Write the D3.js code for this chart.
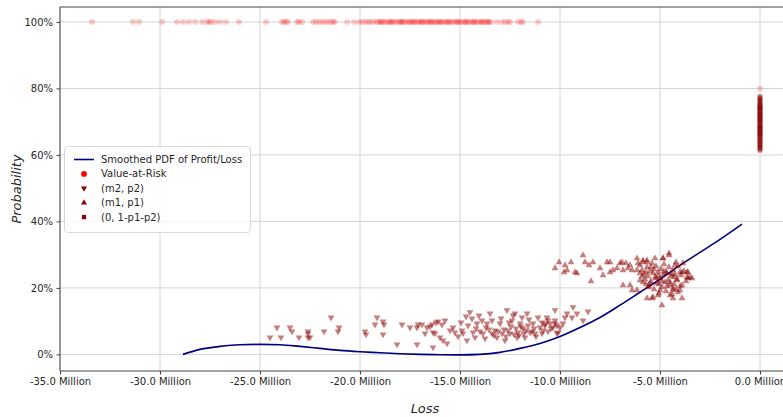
<!DOCTYPE html>
<html>
<head>
<meta charset="utf-8">
<script src="https://cdn.jsdelivr.net/npm/d3@7"></script>
<style>
  body { margin: 0; background: #fff; }
  svg { display: block; font-family: 'DejaVu Sans', sans-serif; }
</style>
</head>
<body>
<div id="chart"></div>
<script>
// ---- data (loss in millions, probability in %) ----

// smoothed pdf of profit/loss, drawn as probability-scaled line
const pdfLoss = [-28.85, -28.0, -27.0, -26.0, -25.0, -24.0, -23.0, -22.0, -21.0, -20.0, -19.0, -18.0, -17.0, -16.0,
  -15.0, -14.0, -13.0, -12.0, -11.0, -10.0, -9.0, -8.0, -7.0, -6.0, -5.0, -4.0, -3.0, -2.0, -0.9];
const pdfProb = [0.0, 1.5, 2.4, 2.9, 3.0, 2.9, 2.4, 1.8, 1.2, 0.8, 0.5, 0.2, 0.0, -0.1,
  -0.15, 0.0, 0.6, 1.8, 3.3, 5.4, 8.1, 11.1, 14.8, 18.7, 22.6, 26.8, 30.7, 34.6, 39.2];

// value-at-risk points sitting on the 100% line
const varTopLoss = [-33.4, -31.35, -31.05, -29.9, -29.15, -28.85, -28.55, -28.25, -27.9, -27.65, -27.55, -27.45,
  -27.25, -27.0, -26.7, -26.05, -24.7, -23.9, -23.8, -23.7, -23.6, -23.15, -23.05, -22.9, -22.35, -22.2, -22.05,
  -21.9, -21.75, -21.6, -21.45, -21.35, -21.25, -20.65, -20.3,
  -20.05, -19.9, -19.75, -19.6, -19.5, -19.35, -19.2, -19.1, -19.0, -18.9, -18.8, -18.7, -18.6, -18.5, -18.4,
  -18.3, -18.2, -18.1, -18.0, -17.95, -17.85, -17.75, -17.65, -17.55, -17.5, -17.4, -17.3, -17.2, -17.1, -17.05,
  -16.95, -16.85, -16.75, -16.65, -16.6, -16.5, -16.4, -16.3, -16.2, -16.15, -16.05, -15.95, -15.85, -15.75,
  -15.65, -15.55, -15.45, -15.35, -15.25, -15.15, -15.05, -14.95, -14.85, -14.75, -14.65, -14.55, -14.45, -14.35,
  -14.25, -14.15, -14.05, -13.95, -13.85, -13.75, -13.65, -13.55, -13.45,
  -18.95, -18.45, -17.9, -17.35, -16.9, -16.45, -16.0, -15.6, -15.1, -14.7, -14.3, -13.9, -13.6,
  -13.15, -12.9, -12.75, -12.6, -12.5, -12.1, -11.95, -11.85, -11.1];
const varTopProb = 100;
// the single faint value-at-risk point at the zero-loss column
const varOtherLoss = [0.0];
const varOtherProb = [80.0];

// (m2, p2) down triangles
const m2Loss = [-24.5, -24.15, -23.95, -23.5, -23.4, -23.05, -22.6, -22.6, -22.6, -22.5, -21.8, -21.45, -21.05, -21.1,
  -19.75, -19.7, -19.15, -19.25, -18.85, -18.8, -18.85, -18.15, -17.9, -17.5, -17.15, -17.15, -17.1,
  -16.9, -16.65, -16.4, -16.35, -16.75, -16.25, -16.1, -15.9, -16.0, -16.35, -15.85, -15.65, -15.75, -15.35, -15.25,
  -14.95, -14.9, -14.85, -14.7, -14.65, -14.5, -14.4, -14.35, -14.25, -14.15, -14.05, -13.9, -13.85, -13.75, -13.65,
  -13.5, -13.4, -13.4, -13.25, -13.15, -13.0, -12.9, -12.75, -12.65, -12.6, -12.5, -12.4, -12.35, -12.25, -12.15,
  -12.1, -12.0, -11.9, -11.85, -11.8, -11.75, -11.65, -11.6, -11.5, -11.35, -11.25, -11.1, -11.0, -10.9, -10.75,
  -10.6, -10.45, -10.25, -10.15,
  -13.3, -13.1, -12.8, -12.7, -12.45, -12.3, -12.2, -12.05, -11.95, -11.7, -11.55, -11.4, -11.3, -11.2, -12.55,
  -12.95, -13.55, -13.7, -14.0, -14.2, -14.6, -15.1, -15.5, -16.5, -16.2,
  -10.65, -10.25, -9.35, -9.65, -9.75, -9.4, -9.15, -8.85, -10.9, -10.75, -10.5, -10.25, -10.15, -10.85, -10.6,
  -10.35, -10.0, -9.85, -10.1, -8.6];
const m2Prob = [5.1, 8.1, 5.1, 8.1, 6.9, 5.1, 6.9, 6.3, 5.1, 5.1, 6.9, 11.1, 8.1, 6.9,
  6.9, 6.0, 11.1, 9.0, 9.9, 9.0, 6.0, 3.0, 9.0, 8.1, 3.0, 8.1, 9.0,
  9.0, 8.1, 9.0, 6.6, 6.3, 6.3, 9.9, 9.0, 5.1, 2.1, 4.2, 3.3, 10.2, 8.1, 6.6,
  9.6, 7.2, 6.3, 11.4, 4.2, 12.7, 10.8, 6.6, 5.1, 9.3, 11.7, 10.2, 6.3, 4.8, 9.3,
  12.3, 10.2, 6.3, 7.2, 5.1, 9.3, 6.3, 4.2, 13.3, 7.2, 6.3, 10.2, 11.7, 12.3, 5.1,
  6.6, 9.3, 11.1, 7.8, 6.3, 5.1, 12.3, 8.7, 6.6, 9.3, 6.3, 11.1, 8.1, 6.3, 9.3,
  10.2, 7.8, 9.3, 6.3,
  5.7, 6.9, 7.5, 5.4, 8.4, 6.0, 7.8, 5.7, 8.4, 7.2, 10.5, 6.9, 7.8, 5.4, 9.6,
  10.8, 7.5, 8.1, 6.9, 7.8, 8.7, 5.4, 7.2, 8.4, 9.6,
  11.1, 13.3, 14.2, 12.3, 11.1, 11.1, 12.3, 10.2, 9.6, 8.7, 9.3, 10.2, 8.7, 7.2, 6.9,
  8.1, 8.1, 9.3, 6.6, 12.9];

// (m1, p1) up triangles
const m1Loss = [-10.25, -10.05, -9.8, -9.75, -9.65, -9.45, -9.25, -9.15, -8.85, -8.75, -8.55, -8.45, -8.35, -8.0,
  -7.85, -7.65, -7.5, -7.5, -7.35, -7.15, -7.0, -6.9, -6.85, -6.7, -6.6, -6.5, -6.4, -6.85, -6.5, -6.15, -6.1,
  -6.15, -6.0, -5.85, -5.65, -6.0, -5.85, -6.4, -6.15, -5.65, -5.4, -4.9, -4.85, -4.55, -4.2, -4.25, -3.9, -3.65,
  -3.4, -3.6, -4.0, -4.35, -4.5, -5.1,
  -5.85, -5.65, -5.25, -4.85, -4.55, -3.85, -3.65, -3.6, -4.0, -4.15, -3.9, -4.35, -4.1, -3.9, -4.35, -5.35, -5.0,
  -6.0, -5.9, -5.8, -5.75, -5.7, -5.65, -5.6, -5.55, -5.5, -5.45, -5.4, -5.35, -5.3, -5.25, -5.2, -5.15, -5.1,
  -5.05, -5.0, -4.95, -4.9, -4.85, -4.8, -4.75, -4.7, -4.65, -4.6, -4.55, -4.5, -4.45, -4.4, -4.35, -4.3, -4.25,
  -4.2, -4.15, -4.1, -4.0, -3.95, -3.8, -3.7, -3.5,
  -5.9, -5.7, -5.5, -5.3, -5.1, -4.9, -4.7, -4.5, -4.3, -5.6, -5.2, -4.8, -4.4, -5.45, -5.05, -4.65];
const m1Prob = [25.9, 27.7, 24.7, 26.8, 25.3, 27.7, 24.7, 24.4, 29.8, 27.7, 26.8, 22.0, 27.7, 25.9,
  23.8, 27.7, 27.7, 24.7, 25.3, 25.9, 27.4, 27.7, 25.3, 27.4, 25.9, 26.8, 25.3, 20.8, 20.8, 28.9, 27.4,
  25.3, 24.4, 27.7, 27.7, 22.3, 21.7, 19.3, 19.3, 16.9, 16.9, 14.8, 28.9, 30.4, 27.7, 26.8, 24.7, 24.7,
  22.9, 22.9, 19.3, 19.3, 17.8, 17.8,
  28.3, 28.3, 28.9, 28.9, 29.8, 27.4, 23.2, 24.7, 24.7, 22.3, 20.8, 19.9, 18.7, 16.9, 16.9, 17.2, 19.3,
  26.8, 25.3, 24.1, 22.6, 21.1, 26.2, 23.5, 20.5, 25.0, 22.0, 27.4, 24.4, 19.6, 23.2, 26.5, 21.4, 24.7,
  18.4, 22.9, 25.6, 20.2, 23.8, 27.1, 21.7, 19.0, 24.4, 22.3, 26.2, 20.8, 23.5, 18.1, 25.3, 21.1, 24.1,
  19.6, 22.6, 26.5, 20.5, 23.8, 25.0, 22.0, 23.2,
  23.5, 24.7, 21.4, 25.6, 23.5, 22.0, 24.7, 21.7, 23.2, 20.2, 22.9, 25.0, 24.1, 26.2, 21.1, 20.5];

// (0, 1-p1-p2) squares stacked on the zero-loss column
const zeroLoss = 0.0;
const zeroProb = [61.4, 61.9, 62.3, 62.8, 63.1, 63.6, 64.0, 64.5, 64.8, 65.2, 65.7, 66.1, 66.4, 66.9, 67.3, 67.6,
  68.0, 68.5, 68.8, 69.3, 69.6, 70.1, 70.4, 70.9, 71.3, 71.6, 72.1, 72.4, 72.8, 73.3, 73.7, 74.0, 74.5, 74.9,
  75.3, 75.7, 76.2, 76.6, 77.1, 77.5, 66.6, 68.3, 70.7, 72.6, 74.2];

const xTicks = [-35, -30, -25, -20, -15, -10, -5, 0];
const yTicks = [0, 20, 40, 60, 80, 100];

// ---- layout ----
const width = 783, height = 417;
const margin = { top: 7, right: -7, bottom: 46, left: 60 };

const svg = d3.select('#chart')
  .append('svg')
  .attr('width', width)
  .attr('height', height);

const x = d3.scaleLinear().domain([-35, 1.5]).range([margin.left, width - margin.right]);
const y = d3.scaleLinear().domain([-5, 104.5]).range([height - margin.bottom, margin.top]);

const gridColor = '#d4d4d4';
const spineColor = '#444';
const red = '#ff0000';
const darkRed = '#8b0000';

// grid
svg.append('g')
  .selectAll('line.vgrid')
  .data(xTicks)
  .enter()
  .append('line')
  .attr('x1', d => x(d)).attr('x2', d => x(d))
  .attr('y1', y.range()[0]).attr('y2', y.range()[1])
  .attr('stroke', gridColor)
  .attr('stroke-width', 1);

svg.append('g')
  .selectAll('line.hgrid')
  .data(yTicks)
  .enter()
  .append('line')
  .attr('x1', x.range()[0]).attr('x2', x.range()[1])
  .attr('y1', d => y(d)).attr('y2', d => y(d))
  .attr('stroke', gridColor)
  .attr('stroke-width', 1);

// smoothed pdf line
const line = d3.line()
  .x(d => x(d[0]))
  .y(d => y(d[1]))
  .curve(d3.curveMonotoneX);

svg.append('path')
  .datum(pdfLoss.map((l, i) => [l, pdfProb[i]]))
  .attr('d', line)
  .attr('fill', 'none')
  .attr('stroke', '#000080')
  .attr('stroke-width', 1.6);

// symbols
const circle = d3.symbol().type(d3.symbolCircle).size(26);
const tri = d3.symbol().type(d3.symbolTriangle).size(20);
const square = d3.symbol().type(d3.symbolSquare).size(22);

// value-at-risk
const varPts = varTopLoss.map(l => [l, varTopProb])
  .concat(varOtherLoss.map((l, i) => [l, varOtherProb[i]]));
svg.append('g')
  .selectAll('path')
  .data(varPts)
  .enter()
  .append('path')
  .attr('d', circle)
  .attr('transform', d => 'translate(' + x(d[0]) + ',' + y(d[1]) + ')')
  .attr('fill', red)
  .attr('fill-opacity', 0.2);

// (m2, p2)
svg.append('g')
  .selectAll('path')
  .data(m2Loss.map((l, i) => [l, m2Prob[i]]))
  .enter()
  .append('path')
  .attr('d', tri)
  .attr('transform', d => 'translate(' + x(d[0]) + ',' + y(d[1]) + ') rotate(180)')
  .attr('fill', darkRed)
  .attr('fill-opacity', 0.5);

// (m1, p1)
svg.append('g')
  .selectAll('path')
  .data(m1Loss.map((l, i) => [l, m1Prob[i]]))
  .enter()
  .append('path')
  .attr('d', tri)
  .attr('transform', d => 'translate(' + x(d[0]) + ',' + y(d[1]) + ')')
  .attr('fill', darkRed)
  .attr('fill-opacity', 0.5);

// (0, 1-p1-p2)
svg.append('g')
  .selectAll('path')
  .data(zeroProb)
  .enter()
  .append('path')
  .attr('d', square)
  .attr('transform', d => 'translate(' + x(zeroLoss) + ',' + y(d) + ')')
  .attr('fill', darkRed)
  .attr('fill-opacity', 0.5);

// axes
const xAxis = svg.append('g')
  .attr('transform', 'translate(0,' + y.range()[0] + ')')
  .call(d3.axisBottom(x).tickValues(xTicks).tickSize(3.5).tickPadding(3.5));
const yAxis = svg.append('g')
  .attr('transform', 'translate(' + x.range()[0] + ',0)')
  .call(d3.axisLeft(y).tickValues(yTicks).tickSize(3.5).tickPadding(3.5)
    .tickFormat(d => d + '%'));

[xAxis, yAxis].forEach(a => {
  a.select('.domain').remove();
  a.selectAll('line').attr('stroke', spineColor);
  a.selectAll('text')
    .attr('fill', '#262626')
    .style('font-size', '10px')
    .style('font-family', "'DejaVu Sans', sans-serif");
});
xAxis.selectAll('text').text(d => d3.format('.1f')(d).replace('−', '-') + ' Million');
yAxis.selectAll('text').attr('dy', '0.35em');

// spines (right one is outside the picture)
svg.append('line')
  .attr('x1', x.range()[0]).attr('x2', x.range()[0])
  .attr('y1', y.range()[0]).attr('y2', y.range()[1])
  .attr('stroke', spineColor).attr('stroke-width', 1);
svg.append('line')
  .attr('x1', x.range()[0]).attr('x2', x.range()[1])
  .attr('y1', y.range()[0]).attr('y2', y.range()[0])
  .attr('stroke', spineColor).attr('stroke-width', 1);
svg.append('line')
  .attr('x1', x.range()[0]).attr('x2', x.range()[1])
  .attr('y1', y.range()[1]).attr('y2', y.range()[1])
  .attr('stroke', spineColor).attr('stroke-width', 1);

// axis titles
svg.append('text')
  .attr('x', (x.range()[0] + x.range()[1]) / 2)
  .attr('y', 413)
  .attr('text-anchor', 'middle')
  .style('font-size', '13px')
  .style('font-style', 'italic')
  .attr('fill', '#262626')
  .text('Loss');

svg.append('text')
  .attr('transform', 'translate(21,' + (y.range()[0] + y.range()[1]) / 2 + ') rotate(-90)')
  .attr('text-anchor', 'middle')
  .style('font-size', '13px')
  .style('font-style', 'italic')
  .attr('fill', '#262626')
  .text('Probability');

// legend
const legend = svg.append('g').attr('transform', 'translate(64,146)');
legend.append('rect')
  .attr('x', 0.5).attr('y', 0.5)
  .attr('width', 186).attr('height', 86)
  .attr('rx', 3)
  .attr('fill', '#fff').attr('fill-opacity', 0.8)
  .attr('stroke', '#d9d9d9');

const legendItems = [
  { label: 'Smoothed PDF of Profit/Loss', kind: 'line' },
  { label: 'Value-at-Risk', kind: 'circle' },
  { label: '(m2, p2)', kind: 'down' },
  { label: '(m1, p1)', kind: 'up' },
  { label: '(0, 1-p1-p2)', kind: 'square' }
];

legendItems.forEach((item, i) => {
  const cy = 13.5 + i * 14.4;
  if (item.kind === 'line') {
    legend.append('line')
      .attr('x1', 10).attr('x2', 30).attr('y1', cy).attr('y2', cy)
      .attr('stroke', '#000080').attr('stroke-width', 1.6);
  } else {
    const sym = item.kind === 'circle' ? d3.symbol().type(d3.symbolCircle).size(26)
      : item.kind === 'square' ? d3.symbol().type(d3.symbolSquare).size(18)
      : d3.symbol().type(d3.symbolTriangle).size(16);
    legend.append('path')
      .attr('d', sym)
      .attr('transform', 'translate(20,' + cy + ')' + (item.kind === 'down' ? ' rotate(180)' : ''))
      .attr('fill', item.kind === 'circle' ? red : darkRed);
  }
  legend.append('text')
    .attr('x', 37).attr('y', cy)
    .attr('dy', '0.35em')
    .style('font-size', '10px')
    .attr('fill', '#262626')
    .text(item.label);
});
</script>
</body>
</html>
